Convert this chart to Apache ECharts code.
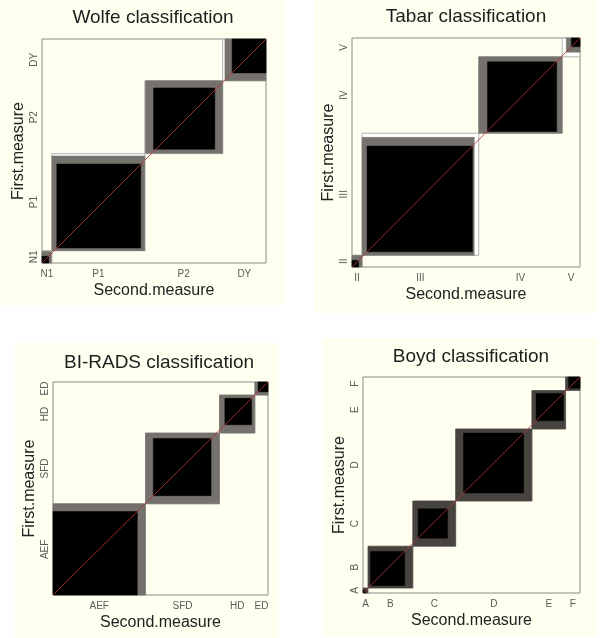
<!DOCTYPE html>
<html><head><meta charset="utf-8">
<script src="https://cdn.jsdelivr.net/npm/echarts@6/dist/echarts.min.js"></script>
<style>html,body{margin:0;padding:0;background:#fff}#c{width:600px;height:638px}</style>
</head><body><div id="c"></div>
<script>
// ---- data (rows = First.measure, columns = Second.measure) ----
const wolfeCats = ['N1', 'P1', 'P2', 'DY'];
const wolfeCounts = [
  [30, 22, 3, 0],
  [12, 374, 36, 10],
  [2, 18, 273, 32],
  [0, 0, 35, 151]
];
const tabarCats = ['II', 'III', 'IV', 'V'];
const tabarCounts = [
  [29, 22, 0, 0],
  [15, 461, 38, 18],
  [0, 8, 303, 22],
  [0, 20, 24, 38]
];
const biradsCats = ['AEF', 'SFD', 'HD', 'ED'];
const biradsCounts = [
  [391, 36, 0, 0],
  [38, 268, 25, 0],
  [0, 39, 124, 15],
  [0, 0, 15, 46]
];
const boydCats = ['A', 'B', 'C', 'D', 'E', 'F'];
const boydCounts = [
  [12, 11, 0, 0, 0, 0],
  [11, 157, 24, 0, 0, 0],
  [0, 37, 135, 36, 0, 0],
  [0, 0, 37, 275, 19, 0],
  [0, 0, 0, 38, 125, 14],
  [0, 0, 0, 0, 10, 52]
];
const titles = ['Wolfe classification', 'Tabar classification', 'BI-RADS classification', 'Boyd classification'];
const diagonal = [[0, 0], [1, 1]];

// ---- layout ----
const panels = [
  {cats: wolfeCats, counts: wolfeCounts, grid: {left: 42, top: 39, width: 224, height: 224}, bg: [0, 0, 284, 305], title: [153, 18]},
  {cats: tabarCats, counts: tabarCounts, grid: {left: 352, top: 38, width: 228, height: 229}, bg: [314, 0, 282, 313], title: [466, 17]},
  {cats: biradsCats, counts: biradsCounts, grid: {left: 53, top: 382, width: 215, height: 213}, bg: [15, 343, 264, 295], title: [159, 363]},
  {cats: boydCats, counts: boydCounts, grid: {left: 363, top: 377, width: 217, height: 216}, bg: [323, 338, 274, 298], title: [471, 357]}
];

function agreement(counts) {
  const k = counts.length;
  let n = 0;
  counts.forEach(r => r.forEach(v => { n += v; }));
  const rowT = counts.map(r => r.reduce((a, b) => a + b, 0) / n);
  const colT = counts[0].map((_, j) => counts.reduce((a, r) => a + r[j], 0) / n);
  const xc = [0], yc = [0];
  for (let i = 0; i < k; i++) { xc.push(xc[i] + colT[i]); yc.push(yc[i] + rowT[i]); }
  const items = [];
  for (let i = 0; i < k; i++) items.push([xc[i], yc[i], xc[i + 1], yc[i + 1], 0]);
  for (let i = 0; i < k; i++) {
    const lo = Math.max(0, i - 1), hi = Math.min(k - 1, i + 1);
    let ax0 = 0, aw = 0, ay0 = 0, ah = 0;
    for (let r = 0; r < lo; r++) ax0 += counts[r][i];
    for (let r = lo; r <= hi; r++) aw += counts[r][i];
    for (let c = 0; c < lo; c++) ay0 += counts[i][c];
    for (let c = lo; c <= hi; c++) ah += counts[i][c];
    items.push([xc[i] + ax0 / n, yc[i] + ay0 / n, xc[i] + (ax0 + aw) / n, yc[i] + (ay0 + ah) / n, 1]);
  }
  for (let i = 0; i < k; i++) {
    let bx0 = 0, by0 = 0;
    for (let r = 0; r < i; r++) bx0 += counts[r][i];
    for (let c = 0; c < i; c++) by0 += counts[i][c];
    const d = counts[i][i];
    items.push([xc[i] + bx0 / n, yc[i] + by0 / n, xc[i] + (bx0 + d) / n, yc[i] + (by0 + d) / n, 2]);
  }
  const xMid = colT.map((w, i) => xc[i] + w / 2);
  const yMid = rowT.map((h, i) => yc[i] + h / 2);
  const w = 1 - 1 / Math.pow(k - 1, 2);
  const g = Math.round(Math.sqrt(1 - w * w) * 255);
  const gray = 'rgb(' + g + ',' + (g - 3) + ',' + (g - 8) + ')';
  return {items, xMid, yMid, gray};
}

const FONT = '"Liberation Sans", Arial, sans-serif';
const grids = [], xAxes = [], yAxes = [], series = [], graphics = [];

panels.forEach((p, idx) => {
  graphics.push({type: 'rect', z: -10, silent: true,
    shape: {x: p.bg[0], y: p.bg[1], width: p.bg[2], height: p.bg[3]},
    style: {fill: '#fffff0'}});
  graphics.push({type: 'text', x: p.title[0], y: p.title[1],
    style: {text: titles[idx], font: '19px ' + FONT, fill: '#1e1e1e', textAlign: 'center', textVerticalAlign: 'middle'}});
  const a = agreement(p.counts);
  grids.push(Object.assign({show: true, borderColor: '#8a8a8a', borderWidth: 1, backgroundColor: 'transparent', containLabel: false}, p.grid));
  const fmt = (mids) => (val) => {
    let best = 0;
    for (let i = 1; i < mids.length; i++) if (Math.abs(mids[i] - val) < Math.abs(mids[best] - val)) best = i;
    return p.cats[best];
  };
  xAxes.push({type: 'value', gridIndex: idx, min: 0, max: 1,
    name: 'Second.measure', nameLocation: 'middle', nameGap: 20,
    nameTextStyle: {fontSize: 16, color: '#222', fontFamily: FONT, verticalAlign: 'top'},
    axisLine: {show: false}, axisTick: {show: false}, splitLine: {show: false},
    axisLabel: {customValues: a.xMid, formatter: fmt(a.xMid), fontSize: 10, color: '#5a5a5a', fontFamily: FONT, margin: 6, hideOverlap: false}});
  yAxes.push({type: 'value', gridIndex: idx, min: 0, max: 1,
    name: 'First.measure', nameLocation: 'middle', nameGap: 15,
    nameTextStyle: {fontSize: 16, color: '#222', fontFamily: FONT},
    axisLine: {show: false}, axisTick: {show: false}, splitLine: {show: false},
    axisLabel: {customValues: a.yMid, formatter: fmt(a.yMid), fontSize: 10, color: '#5a5a5a', fontFamily: FONT, margin: 3, rotate: 90, hideOverlap: false}});
  series.push({type: 'custom', xAxisIndex: idx, yAxisIndex: idx, data: a.items,
    encode: {x: [0, 2], y: [1, 3]}, clip: false, silent: true, animation: false,
    renderItem: function (params, api) {
      const p0 = api.coord([api.value(0), api.value(1)]);
      const p1 = api.coord([api.value(2), api.value(3)]);
      const kind = api.value(4);
      let style;
      if (kind === 0) style = {fill: '#ffffff', stroke: '#b0b0b0', lineWidth: 1};
      else if (kind === 1) style = {fill: a.gray, stroke: a.gray, lineWidth: 0.5};
      else style = {fill: '#000', stroke: '#000', lineWidth: 0.5};
      return {type: 'rect', shape: {x: p0[0], y: p1[1], width: p1[0] - p0[0], height: p0[1] - p1[1]}, style: style};
    }});
  series.push({type: 'line', xAxisIndex: idx, yAxisIndex: idx, data: diagonal, symbol: 'none',
    silent: true, animation: false, z: 5, lineStyle: {color: '#b83434', width: 1, opacity: 0.85}});
});

const chart = echarts.init(document.getElementById('c'), null, {renderer: 'canvas'});
chart.setOption({
  backgroundColor: '#ffffff',
  animation: false,
  grid: grids, xAxis: xAxes, yAxis: yAxes, series: series,
  graphic: graphics
});
</script>
</body></html>
